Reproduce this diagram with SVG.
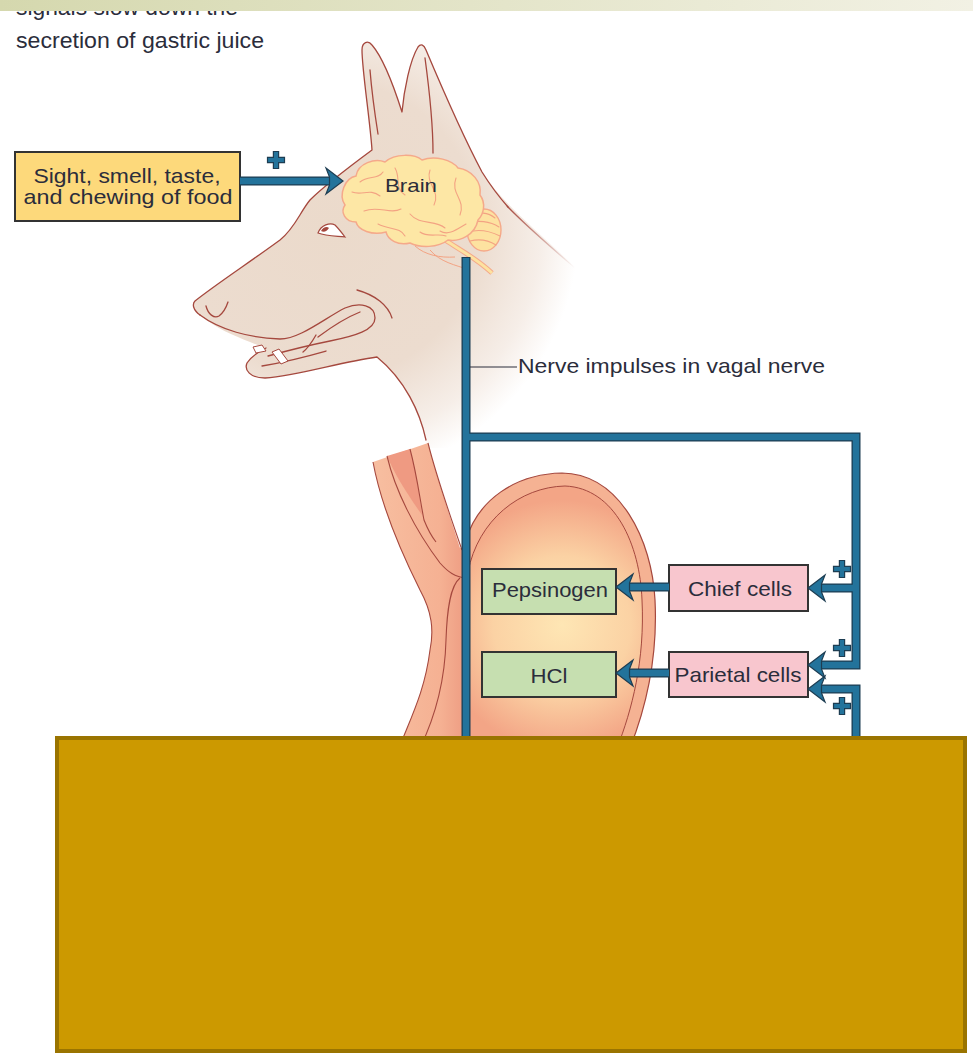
<svg xmlns="http://www.w3.org/2000/svg" width="973" height="1054" viewBox="0 0 973 1054">
<defs>
<style>
.lbl{font-family:"Liberation Sans",Arial,sans-serif;fill:#2b2d3b}
.box{stroke:#333;stroke-width:2}
.wire-o{fill:none;stroke:#1d3d52;stroke-width:9;stroke-linejoin:miter}
.wire{fill:none;stroke:#23739b;stroke-width:6.5;stroke-linejoin:miter}
.head{fill:#23739b;stroke:#1d3d52;stroke-width:1.2;stroke-linejoin:miter}
.dog{fill:none;stroke:#a5483e;stroke-width:1.3;stroke-linecap:round;stroke-linejoin:round}
.gyr{fill:none;stroke:#f3a383;stroke-width:1.1;stroke-linecap:round}
.wall{fill:none;stroke:#a5483e;stroke-width:1.1}
</style>
<linearGradient id="banner" x1="0" y1="0" x2="1" y2="0">
<stop offset="0" stop-color="#d5d8ae"/>
<stop offset="1" stop-color="#f2f1e4"/>
</linearGradient>
<radialGradient id="skin" gradientUnits="userSpaceOnUse" cx="330" cy="230" r="270">
<stop offset="0" stop-color="#ebdacb"/>
<stop offset="0.55" stop-color="#ecdccf"/>
<stop offset="0.78" stop-color="#f6eee8"/>
<stop offset="0.92" stop-color="#ffffff"/>
</radialGradient>
<linearGradient id="fadeLine" gradientUnits="userSpaceOnUse" x1="505" y1="205" x2="575" y2="268">
<stop offset="0" stop-color="#a5483e" stop-opacity="1"/>
<stop offset="1" stop-color="#a5483e" stop-opacity="0"/>
</linearGradient>
<linearGradient id="gullet" gradientUnits="userSpaceOnUse" x1="380" y1="0" x2="466" y2="0">
<stop offset="0" stop-color="#f7bd9f"/>
<stop offset="0.7" stop-color="#f5b193"/>
<stop offset="1" stop-color="#ee9c82"/>
</linearGradient>
<radialGradient id="lumen" gradientUnits="userSpaceOnUse" cx="562" cy="625" r="125">
<stop offset="0" stop-color="#fee6b4"/>
<stop offset="0.55" stop-color="#fbd2a4"/>
<stop offset="1" stop-color="#f3a586"/>
</radialGradient>
<path id="ah" d="M0 0 L17 -13 L13.5 -4 L13.5 4 L17 13 Z"/>
<path id="plus" d="M-2.6 -8.5 H2.6 V-2.6 H8.5 V2.6 H2.6 V8.5 H-2.6 V2.6 H-8.5 V-2.6 H-2.6 Z"/>
</defs>

<rect x="0" y="0" width="973" height="1054" fill="#ffffff"/>

<!-- dog head -->
<g id="dog">
<path fill="url(#skin)" d="M195 301 C215 285 250 262 280 240 C295 228 300 212 310 200 C325 185 345 170 372 150 C370 120 362 70 362 50 C362 42 368 40 372 45 C385 60 395 90 402 112 C404 90 410 60 418 47 C421 43 424 45 426 50 C445 95 465 140 482 172 C500 200 530 225 570 262 C600 300 615 360 595 445 L470 448 L428 448 C420 415 405 380 377 357 C340 362 300 375 265 378 C250 378 244 370 247 363 C252 355 262 350 265 348 L250 342 C235 336 215 328 200 315 C193 310 192 304 195 301 Z"/>
<path class="dog" d="M426 440 C420 412 405 380 377 357 C340 362 300 375 265 378 C250 378 244 370 247 363 C252 355 262 350 266 348"/>
<path class="dog" d="M200 315 C193 310 192 304 195 301 C215 285 250 262 280 240 C295 228 300 212 310 200 C325 185 345 170 372 150 C370 120 362 70 362 50 C362 42 368 40 372 45 C385 60 395 90 402 112 C404 90 410 60 418 47 C421 43 424 45 426 50 C445 95 465 140 482 172 C492 188 500 198 508 207"/>
<path fill="none" stroke="url(#fadeLine)" stroke-width="1.3" d="M507 206 C525 225 545 242 575 268"/>
<path class="dog" d="M370 70 C372 95 375 115 378 134"/>
<path class="dog" d="M425 58 C430 95 433 125 433 153"/>
<!-- nostril and mouth -->
<path class="dog" d="M206 306 C208 314 214 319 219 316 C223 313 226 308 228 302"/>
<path class="dog" d="M200 315 C220 330 250 338 280 339 C300 339 325 318 345 308 C360 302 375 305 375 318 C375 330 355 336 330 341 C310 345 290 350 268 356"/>
<path class="dog" d="M318 337 C330 328 345 318 360 312"/>
<path class="dog" d="M316 335 C312 342 308 348 303 352"/>
<path class="dog" d="M262 366 C285 362 305 357 326 351"/>
<path class="dog" d="M357 290 C375 295 388 305 392 318"/>
<path fill="#ffffff" stroke="#a5483e" stroke-width="1" d="M253 347 L262 345 L266 351 L256 353 Z"/>
<path fill="#ffffff" stroke="#a5483e" stroke-width="1" d="M272 352 L279 349 L288 361 L281 364 Z"/>
<!-- eye -->
<path fill="#ffffff" stroke="#a5483e" stroke-width="1.2" d="M318 233 C321 225 330 222 335 225 C339 229 342 233 345 237 C336 236 326 236 318 233 Z"/>
<path fill="#a5483e" d="M321 231 C323 227 327 226 329 228 C327 231 324 233 321 231 Z"/>
</g>

<!-- brain -->
<g id="n-brain">
<path d="M445 240 C460 250 476 258 492 273" fill="none" stroke="#f5a98a" stroke-width="5"/>
<path d="M445 240 C460 250 476 258 492 273" fill="none" stroke="#fde2a0" stroke-width="3"/>
<path d="M415 246 C425 255 440 258 455 257 M430 250 C440 262 455 265 470 270" fill="none" stroke="#f3a383" stroke-width="1"/>
<ellipse cx="484" cy="230" rx="17" ry="21" fill="#fde2a0" stroke="#f5a98a" stroke-width="1.4"/>
<path class="gyr" d="M472 215 C478 212 488 212 495 218 M469 223 C477 220 490 221 499 227 M468 232 C478 229 490 231 500 236 M470 241 C478 239 488 240 496 245"/>
<path fill="#fde7a5" stroke="#f5a98a" stroke-width="1.5" d="M345 205 C338 195 345 178 356 176 C358 163 375 158 385 162 C395 153 415 154 422 160 C435 155 452 160 458 168 C472 170 482 182 480 195 C486 203 484 214 478 220 C475 235 460 242 448 240 C438 248 420 248 410 243 C398 246 388 240 386 232 C372 236 358 230 356 222 C345 222 340 212 345 205 Z"/>
<path class="gyr" d="M352 192 C362 196 370 188 380 196 M395 168 C401 178 394 188 405 195 M430 170 C425 184 441 190 434 205 M456 178 C450 194 466 199 460 215 M364 211 C379 205 390 215 401 209 M410 214 C420 226 435 219 445 228 M378 224 C390 230 400 227 405 236 M466 224 C456 230 448 236 440 231 M360 182 C368 175 378 180 383 172 M420 232 C428 238 438 233 446 236"/>
<text class="lbl" x="411" y="192" font-size="19" text-anchor="middle" textLength="52" lengthAdjust="spacingAndGlyphs">Brain</text>
</g>

<!-- oesophagus and stomach -->
<g id="stomach">
<path fill="url(#gullet)" d="M373 462 L428 443 C436 475 448 510 460 548 L468 548 L468 748 L399 748 C412 715 425 690 430 650 C434 630 432 612 420 590 C395 540 380 500 373 462 Z"/>
<path class="wall" d="M373 462 C380 500 395 540 420 590 C432 612 434 630 430 650 C425 690 412 715 399 748"/>
<path class="wall" d="M428 443 C436 475 448 510 462 550"/>
<path fill="#ef9a82" d="M387 456 L410 449 C416 470 419 492 422 515 C408 495 395 475 387 456 Z"/>
<path class="wall" d="M387 456 C395 490 415 530 440 563 C448 572 455 577 466 578"/>
<path class="wall" d="M410 449 C417 475 420 500 424 520 C428 530 432 537 436 542"/>
<path class="wall" d="M460 578 C450 586 447 610 446 640 C445 680 436 715 420 748"/>
<path fill="#f5b293" stroke="#a5483e" stroke-width="1.2" d="M466 540 C478 500 515 474 562 473 C620 474 652 540 655 600 C658 660 645 710 630 748 L466 748 Z"/>
<path fill="url(#lumen)" stroke="#a5483e" stroke-width="1" d="M468 572 C478 520 520 487 565 486 C615 488 640 545 642 600 C645 660 632 710 617 748 L468 748 Z"/>
</g>

<!-- nodes -->
<g id="n-stimulus">
<rect class="box" x="15" y="152" width="225" height="69" fill="#fdd97b"/>
<text class="lbl" x="127" y="183" font-size="21" text-anchor="middle" textLength="187" lengthAdjust="spacingAndGlyphs">Sight, smell, taste,</text>
<text class="lbl" x="128" y="204" font-size="21" text-anchor="middle" textLength="209" lengthAdjust="spacingAndGlyphs">and chewing of food</text>
</g>
<g id="n-pepsinogen">
<rect class="box" x="482" y="569" width="134" height="45" fill="#c6dfb0"/>
<text class="lbl" x="550" y="597" font-size="21" text-anchor="middle" textLength="116" lengthAdjust="spacingAndGlyphs">Pepsinogen</text>
</g>
<g id="n-hcl">
<rect class="box" x="482" y="652" width="134" height="45" fill="#c6dfb0"/>
<text class="lbl" x="549" y="683" font-size="21" text-anchor="middle" textLength="37" lengthAdjust="spacingAndGlyphs">HCl</text>
</g>
<g id="n-chief">
<rect class="box" x="669" y="565" width="139" height="46" fill="#f8c6ce"/>
<text class="lbl" x="740" y="596" font-size="21" text-anchor="middle" textLength="104" lengthAdjust="spacingAndGlyphs">Chief cells</text>
</g>
<g id="n-parietal">
<rect class="box" x="669" y="652" width="139" height="45" fill="#f8c6ce"/>
<text class="lbl" x="738" y="682" font-size="21" text-anchor="middle" textLength="127" lengthAdjust="spacingAndGlyphs">Parietal cells</text>
</g>

<!-- connectors -->
<g id="connectors">
<path class="wire-o" d="M240 181 H331 M466 257 V748 M466 437 H856 V665 H822 M856 588 H822 M856 748 V689 H822 M669 587 H628 M669 673 H628"/>
<path class="wire" d="M240 181 H332 M466 258 V748 M466 437 H856 V665 H821 M856 588 H821 M856 748 V689 H821 M669 587 H627 M669 673 H627"/>
<use href="#ah" class="head" transform="translate(343 181) rotate(180)"/>
<use href="#ah" class="head" transform="translate(616 587)"/>
<use href="#ah" class="head" transform="translate(616 673)"/>
<use href="#ah" class="head" transform="translate(808 588)"/>
<use href="#ah" class="head" transform="translate(808 665)"/>
<use href="#ah" class="head" transform="translate(808 689)"/>
<use href="#plus" class="head" transform="translate(276 160)"/>
<use href="#plus" class="head" transform="translate(842 569)"/>
<use href="#plus" class="head" transform="translate(842 648)"/>
<use href="#plus" class="head" transform="translate(842 706)"/>
<path d="M470 367 H517" fill="none" stroke="#2b2d3b" stroke-width="1.2"/>
<text class="lbl" x="518" y="373" font-size="21" textLength="307" lengthAdjust="spacingAndGlyphs">Nerve impulses in vagal nerve</text>
</g>

<!-- caption -->
<text class="lbl" x="16" y="14.5" font-size="22" textLength="222" lengthAdjust="spacingAndGlyphs">signals slow down the</text>
<text class="lbl" x="16" y="48" font-size="22" textLength="248" lengthAdjust="spacingAndGlyphs">secretion of gastric juice</text>
<rect x="0" y="0" width="973" height="11" fill="url(#banner)"/>

<!-- cover panel -->
<rect x="57" y="738" width="908" height="313" fill="#cc9900" stroke="#9a7400" stroke-width="4"/>
</svg>
